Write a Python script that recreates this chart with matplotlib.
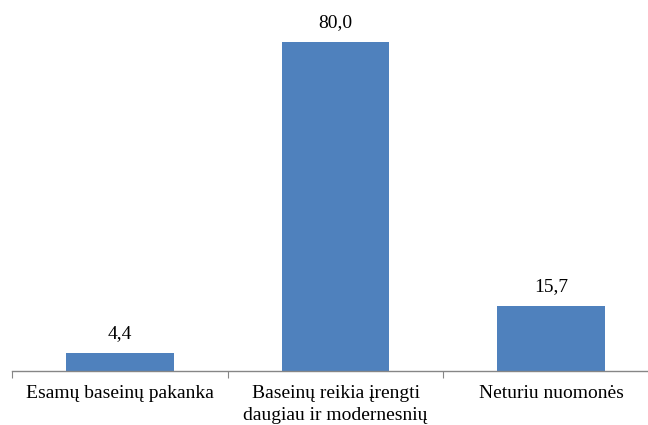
import matplotlib
matplotlib.use("Agg")
import matplotlib.pyplot as plt

categories = ["Esamų baseinų pakanka", "Baseinų reikia įrengti\ndaugiau ir modernesnių", "Neturiu nuomonės"]
values = [4.4, 80.0, 15.7]
value_labels = ["4,4", "80,0", "15,7"]

plt.rcParams['font.family'] = ['Liberation Serif', 'DejaVu Serif']

fig = plt.figure(figsize=(6.48, 4.25), dpi=100)
ax = fig.add_axes([12/648, 54/425, 647/648, 370/425])

x = list(range(len(categories)))
bars = ax.bar(x, values, width=0.5, color="#4F81BD")
ax.set_xlim(-0.5, 2.5)
ax.set_ylim(0, 90)

for xi, v, lab in zip(x, values, value_labels):
    ax.annotate(lab, (xi, v), xytext=(0, 11), textcoords="offset pixels",
                ha="center", va="bottom", fontsize=14, color="black")

for s in ["top", "right", "left"]:
    ax.spines[s].set_visible(False)
ax.spines["bottom"].set_color("#868686")
ax.spines["bottom"].set_linewidth(1.0)
ax.set_yticks([])
ax.set_xticks([-0.5, 0.5, 1.5, 2.5])
ax.set_xticklabels([])
ax.tick_params(axis="x", length=5, color="#868686", direction="out")
for xi, c in zip(x, categories):
    ax.text(xi, -0.037, c, transform=ax.get_xaxis_transform(), ha="center", va="top",
            fontsize=14, linespacing=1.4, clip_on=False)

fig.savefig("out.png", dpi=100)
